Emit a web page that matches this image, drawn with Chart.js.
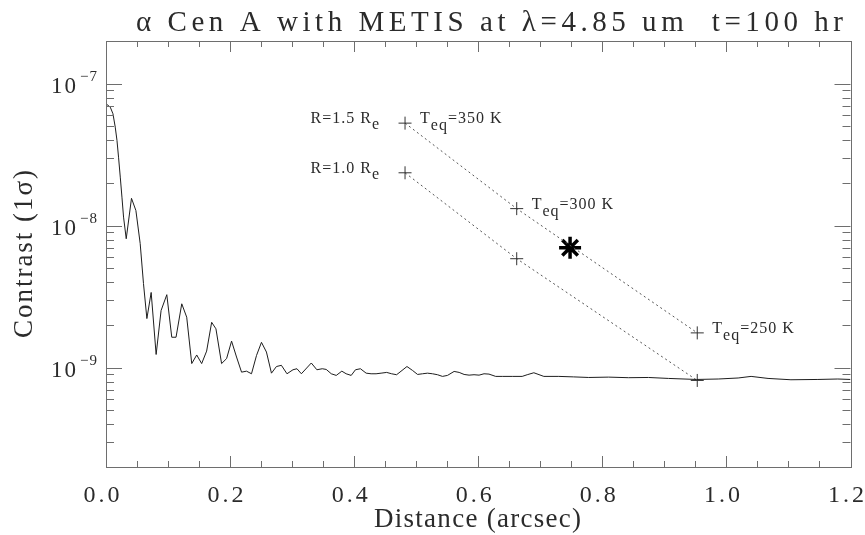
<!DOCTYPE html>
<html>
<head>
<meta charset="utf-8">
<title>alpha Cen A with METIS</title>
<script src="https://cdn.jsdelivr.net/npm/chart.js@4"></script>
<style>
  body { margin: 0; background: #fff; }
  #wrap { width: 865px; height: 535px; }
</style>
</head>
<body>
<div id="wrap"><canvas id="contrastChart" width="865" height="535"></canvas></div>
<script>
'use strict';

// 1-sigma contrast curve
var noiseX = [0, 0.0069, 0.0112, 0.0149, 0.0177, 0.0202, 0.0230, 0.0257, 0.0283, 0.0326,
  0.0411, 0.0482, 0.0551, 0.0604, 0.0659, 0.0728, 0.0808, 0.0888, 0.0980, 0.1060,
  0.1129, 0.1221, 0.1301, 0.1382, 0.1462, 0.1542, 0.1622, 0.1703, 0.1772, 0.1863,
  0.1944, 0.2024, 0.2104, 0.2185, 0.2265, 0.2345, 0.2426, 0.2506, 0.2586, 0.2667,
  0.2747, 0.2827, 0.2917, 0.3014, 0.3078, 0.3149, 0.3309, 0.3399, 0.3486, 0.3550,
  0.3631, 0.3711, 0.3801, 0.3871, 0.3952, 0.4021, 0.4101, 0.4193, 0.4273, 0.4353,
  0.4434, 0.4524, 0.4604, 0.4684, 0.4771, 0.4851, 0.4941, 0.5022, 0.5102, 0.5182,
  0.5263, 0.5343, 0.5423, 0.5504, 0.5611, 0.5692, 0.5772, 0.5852, 0.5932, 0.6013,
  0.6093, 0.6173, 0.6281, 0.6387, 0.6548, 0.6708, 0.6789, 0.6896, 0.7057, 0.7298,
  0.7539, 0.7780, 0.8101, 0.8422, 0.8744, 0.9065, 0.9515, 0.9868, 1.0189, 1.0398,
  1.0671, 1.1040, 1.1474, 1.1795, 1.2000];
var noiseY = [7.23e-8, 6.84e-8, 6.15e-8, 4.95e-8, 3.99e-8, 3.04e-8, 2.20e-8, 1.59e-8, 1.15e-8, 8.10e-9,
  1.56e-8, 1.28e-8, 7.50e-9, 3.92e-9, 2.22e-9, 3.39e-9, 1.24e-9, 2.53e-9, 3.27e-9, 1.64e-9,
  1.64e-9, 2.82e-9, 2.27e-9, 1.07e-9, 1.23e-9, 1.07e-9, 1.31e-9, 2.09e-9, 1.88e-9, 1.07e-9,
  1.16e-9, 1.54e-9, 1.19e-9, 9.31e-10, 9.46e-10, 9.07e-10, 1.22e-9, 1.51e-9, 1.29e-9, 9.16e-10,
  1.02e-9, 1.04e-9, 9.07e-10, 9.68e-10, 9.84e-10, 9.07e-10, 1.08e-9, 9.68e-10, 9.84e-10, 9.73e-10,
  9.07e-10, 8.83e-10, 9.46e-10, 9.07e-10, 8.83e-10, 9.68e-10, 9.84e-10, 9.16e-10, 9.07e-10, 9.07e-10,
  9.16e-10, 9.27e-10, 9.07e-10, 8.93e-10, 9.57e-10, 1.02e-9, 9.57e-10, 8.97e-10, 9.07e-10, 9.16e-10,
  9.07e-10, 8.93e-10, 8.69e-10, 8.83e-10, 9.42e-10, 9.27e-10, 8.97e-10, 8.87e-10, 8.93e-10, 8.87e-10,
  9.07e-10, 9.02e-10, 8.69e-10, 8.69e-10, 8.69e-10, 8.69e-10, 8.93e-10, 9.22e-10, 8.69e-10, 8.69e-10,
  8.62e-10, 8.54e-10, 8.59e-10, 8.51e-10, 8.54e-10, 8.41e-10, 8.27e-10, 8.33e-10, 8.47e-10, 8.69e-10,
  8.41e-10, 8.23e-10, 8.27e-10, 8.33e-10, 8.27e-10];

// planets at three equilibrium temperatures, two radii
var orbitX = [0.482, 0.662, 0.953];
var contrastR15 = [5.28e-8, 1.32e-8, 1.76e-9];
var contrastR10 = [2.36e-8, 5.86e-9, 8.14e-10];
var tempLabels = ['350', '300', '250'];
var radiusLabels = ['1.5', '1.0'];
var starX = [0.748];
var starY = [7.0e-9];

var xTicks = [0, 0.2, 0.4, 0.6, 0.8, 1.0, 1.2];
var yDecades = [-9, -8, -7];
var xMin = 0;
var xMax = 1.2;
var yMin = 2e-10;
var yMax = 2e-7;

var serif = '"Liberation Serif", "DejaVu Serif", serif';
var textColor = '#2b2b2b';

var toPoints = function (xs, ys) {
  var pts = [];
  for (var i = 0; i < xs.length; i++) {
    pts.push({ x: xs[i], y: ys[i] });
  }
  return pts;
};

// stretch a string to a given width with letter spacing (IDL fonts run wide)
var drawSpaced = function (ctx, text, left, y, width) {
  ctx.letterSpacing = '0px';
  var natural = ctx.measureText(text).width;
  var extra = (width - natural) / Math.max(text.length - 1, 1);
  ctx.letterSpacing = extra + 'px';
  ctx.textAlign = 'left';
  ctx.fillText(text, left, y);
  ctx.letterSpacing = '0px';
};

// pieces: [text, vertical shift, font size]
var drawPieces = function (ctx, pieces, x, y, align) {
  var total = 0;
  var i;
  ctx.letterSpacing = '1px';
  for (i = 0; i < pieces.length; i++) {
    ctx.font = pieces[i][2] + 'px ' + serif;
    total += ctx.measureText(pieces[i][0]).width;
  }
  var cx = align === 'right' ? x - total : x;
  ctx.textAlign = 'left';
  for (i = 0; i < pieces.length; i++) {
    ctx.font = pieces[i][2] + 'px ' + serif;
    ctx.fillText(pieces[i][0], cx, y + pieces[i][1]);
    cx += ctx.measureText(pieces[i][0]).width;
  }
  ctx.letterSpacing = '0px';
};

var idlFrame = {
  id: 'idlFrame',
  afterDraw: function (chart) {
    var ctx = chart.ctx;
    var area = chart.chartArea;
    var xs = chart.scales.x;
    var ys = chart.scales.y;
    var i, m, e, px, py, len;

    ctx.save();
    ctx.strokeStyle = '#6e6e6e';
    ctx.lineWidth = 1;
    ctx.strokeRect(Math.round(area.left) + 0.5, Math.round(area.top) + 0.5,
      Math.round(area.right - area.left), Math.round(area.bottom - area.top));

    // x ticks inside the box, top and bottom
    ctx.beginPath();
    for (i = 0; i <= 24; i++) {
      px = Math.round(xs.getPixelForValue(i * 0.05)) + 0.5;
      len = i % 4 === 0 ? 11 : 6;
      ctx.moveTo(px, area.bottom);
      ctx.lineTo(px, area.bottom - len);
      ctx.moveTo(px, area.top);
      ctx.lineTo(px, area.top + len);
    }
    // log y ticks inside the box, left and right
    for (e = -10; e <= -7; e++) {
      for (m = 1; m <= 9; m++) {
        var v = m * Math.pow(10, e);
        if (v < yMin * 0.999 || v > yMax * 1.001) continue;
        py = Math.round(ys.getPixelForValue(v)) + 0.5;
        len = m === 1 ? 16 : 8;
        ctx.moveTo(area.left, py);
        ctx.lineTo(area.left + len, py);
        ctx.moveTo(area.right, py);
        ctx.lineTo(area.right - len, py);
      }
    }
    ctx.stroke();

    ctx.fillStyle = textColor;
    ctx.textBaseline = 'alphabetic';

    // x tick labels
    ctx.font = '24px ' + serif;
    ctx.letterSpacing = '3px';
    ctx.textAlign = 'center';
    for (i = 0; i < xTicks.length; i++) {
      ctx.fillText(xTicks[i].toFixed(1), xs.getPixelForValue(xTicks[i]) - 3, 502);
    }
    ctx.letterSpacing = '0px';

    // y tick labels, 10 with a raised exponent
    for (i = 0; i < yDecades.length; i++) {
      py = ys.getPixelForValue(Math.pow(10, yDecades[i]));
      ctx.font = '23px ' + serif;
      ctx.letterSpacing = '2px';
      ctx.textAlign = 'left';
      ctx.fillText('10', 51, py + 9);
      ctx.font = '15px ' + serif;
      ctx.letterSpacing = '1px';
      ctx.fillText('\u2212' + (-yDecades[i]), 80, py - 3);
      ctx.letterSpacing = '0px';
    }

    // axis titles and main title
    ctx.font = '27px ' + serif;
    drawSpaced(ctx, 'Distance (arcsec)', 374, 527, 207);
    ctx.save();
    ctx.translate(32, 338);
    ctx.rotate(-Math.PI / 2);
    drawSpaced(ctx, 'Contrast (1\u03c3)', 0, 0, 168);
    ctx.restore();
    ctx.font = '29px ' + serif;
    drawSpaced(ctx, '\u03b1 Cen A with METIS at \u03bb=4.85 um  t=100 hr', 136, 31, 707);

    // planet annotations
    var rows = [contrastR15, contrastR10];
    for (i = 0; i < rows.length; i++) {
      px = xs.getPixelForValue(orbitX[0]);
      py = ys.getPixelForValue(rows[i][0]);
      drawPieces(ctx, [['R=' + radiusLabels[i] + ' R', 0, 16], ['e', 6, 16]], px - 25, py, 'right');
    }
    for (i = 0; i < orbitX.length; i++) {
      px = xs.getPixelForValue(orbitX[i]);
      py = ys.getPixelForValue(contrastR15[i]);
      drawPieces(ctx, [['T', 0, 16], ['eq', 7, 16], ['=' + tempLabels[i] + ' K', 0, 16]],
        px + 15, py, 'left');
    }
    ctx.restore();
  }
};

var ctx = document.getElementById('contrastChart').getContext('2d');

var planetStyle = {
  borderColor: '#555',
  borderWidth: 1,
  borderDash: [2, 3],
  pointStyle: 'cross',
  pointRadius: 6.5,
  pointBorderColor: '#333',
  pointBorderWidth: 1,
  fill: false,
  tension: 0
};

var contrastChart = new Chart(ctx, {
  type: 'line',
  data: {
    datasets: [
      {
        label: 'contrast',
        data: toPoints(noiseX, noiseY),
        borderColor: '#1e1e1e',
        borderWidth: 1,
        pointRadius: 0,
        fill: false,
        tension: 0
      },
      Object.assign({ label: 'R=1.5', data: toPoints(orbitX, contrastR15) }, planetStyle),
      Object.assign({ label: 'R=1.0', data: toPoints(orbitX, contrastR10) }, planetStyle),
      {
        label: 'alpha Cen A b',
        data: toPoints(starX, starY),
        showLine: false,
        pointStyle: 'star',
        pointRadius: 11,
        pointBorderColor: '#000',
        pointBorderWidth: 3.5
      }
    ]
  },
  options: {
    responsive: false,
    animation: false,
    devicePixelRatio: 1,
    layout: { padding: { left: 106, right: 12, top: 41, bottom: 68 } },
    plugins: {
      legend: { display: false },
      tooltip: { enabled: false },
      title: { display: false }
    },
    scales: {
      x: { type: 'linear', min: xMin, max: xMax, display: false },
      y: { type: 'logarithmic', min: yMin, max: yMax, display: false }
    }
  },
  plugins: [idlFrame]
});
</script>
</body>
</html>
